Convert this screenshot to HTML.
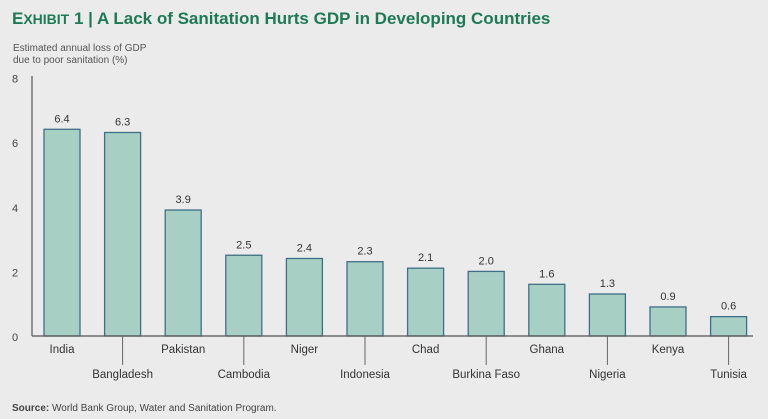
<!DOCTYPE html>
<html><head><meta charset="utf-8"><style>
body{margin:0;background:#ebebeb;}
svg{display:block;font-family:"Liberation Sans",sans-serif;}
</style></head><body>
<svg id="c" width="768" height="419" viewBox="0 0 768 419">
<rect width="768" height="419" fill="#ebebeb"/>
<text x="12" y="24" fill="#1e7a55" font-weight="bold" font-size="17"><tspan font-size="17">E</tspan><tspan font-size="14">XHIBIT</tspan> 1 | A Lack of Sanitation Hurts GDP in Developing Countries</text>
<text x="13" y="51" fill="#555" font-size="10">Estimated annual loss of GDP</text>
<text x="13" y="63" fill="#555" font-size="10">due to poor sanitation (%)</text>
<text x="12" y="411" fill="#444" font-size="10"><tspan font-weight="bold">Source:</tspan> World Bank Group, Water and Sanitation Program.</text>
<g id="plot"></g>
</svg>
<script>
const categories=["India","Bangladesh","Pakistan","Cambodia","Niger","Indonesia","Chad","Burkina Faso","Ghana","Nigeria","Kenya","Tunisia"];
const values=[6.4,6.3,3.9,2.5,2.4,2.3,2.1,2.0,1.6,1.3,0.9,0.6];
const yTicks=[0,2,4,6,8];
const NS="http://www.w3.org/2000/svg";
const g=document.getElementById('plot');
const y=v=>336-v*32.3;
const x=i=>44+i*60.6;
const bw=36;
function el(t,a,txt){const e=document.createElementNS(NS,t);for(const k in a)e.setAttribute(k,a[k]);if(txt!==undefined)e.textContent=txt;g.appendChild(e);return e;}
const ax=el('line',{x1:32,y1:76,x2:32,y2:336,stroke:'#555','stroke-width':1.2});


yTicks.forEach(t=>{
 const l=el('text',{x:12,y:y(t)+5,fill:'#444','font-size':11},String(t));
 
 
});
values.forEach((v,i)=>{
 const r=el('rect',{x:x(i),y:y(v),width:bw,height:336-y(v),fill:'#a8cfc3',stroke:'#3f6f86','stroke-width':1.3});
 
 
 const vl=el('text',{x:x(i)+bw/2,y:y(v)-7,fill:'#333','font-size':11,'text-anchor':'middle'},v.toFixed(1));
 
 
 const odd=i%2===1;
 if(odd){
  const tl=el('line',{x1:x(i)+bw/2,y1:336,x2:x(i)+bw/2,y2:365,stroke:'#666','stroke-width':1});
  
  
 }
 const cl=el('text',{x:x(i)+bw/2,y:odd?378:353,fill:'#333','font-size':11.5,'text-anchor':'middle'},categories[i]);
 
 
});
const bl=el('line',{x1:32,y1:336,x2:753,y2:336,stroke:'#555','stroke-width':1.2});


</script>
</body></html>
